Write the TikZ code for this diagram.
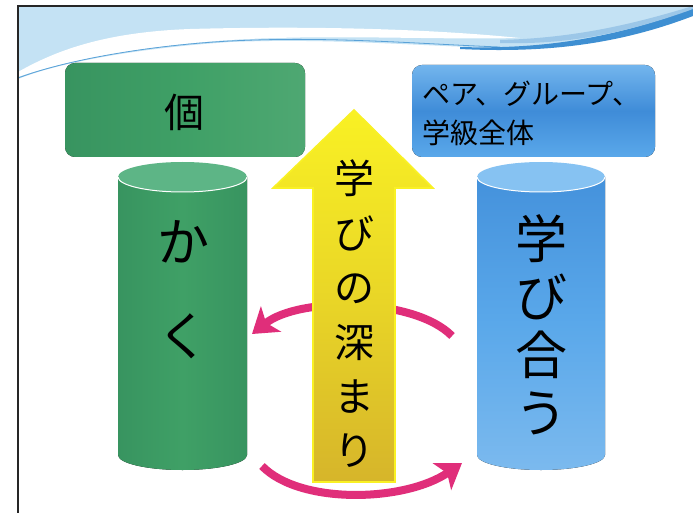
\documentclass[tikz,border=0pt]{standalone}
\usepackage{fontspec}
\newfontfamily\jp{Noto Sans CJK JP}
\usetikzlibrary{arrows.meta,shapes.geometric}
\definecolor{hdrblue}{HTML}{C4E2F4}
\definecolor{hdrline}{HTML}{5AA2D8}
\definecolor{hdrdark}{HTML}{3E8FD2}
\definecolor{grn}{HTML}{3FA066}
\definecolor{grndark}{HTML}{389460}
\definecolor{grntop}{HTML}{5DB586}
\definecolor{blu}{HTML}{5AA8EA}
\definecolor{bludark}{HTML}{3F8CD8}
\definecolor{blutop}{HTML}{86C2F2}
\definecolor{ylw}{HTML}{F9F124}
\definecolor{gold}{HTML}{D6B52A}
\definecolor{pnk}{HTML}{E02E7A}
\tikzset{
  lbl/.style={font=\jp\fontsize{52}{58}\selectfont, align=center, text=black, inner sep=0pt},
  arrlbl/.style={font=\jp\fontsize{40}{54.4}\selectfont, align=center, text=black, inner sep=0pt},
  boxlbl/.style={font=\jp\fontsize{28}{39}\selectfont, align=left, text=black, inner sep=0pt},
  cyclearrow/.style={draw=pnk, line width=8pt, -{Stealth[length=24pt,width=32pt,inset=6pt]}},
}
\begin{document}
\begin{tikzpicture}[x=1pt,y=-1pt]
\useasboundingbox (0,0) rectangle (693,513);
\fill[white] (0,0) rectangle (693,513);
% header band
\fill[hdrblue] (18,6) -- (693,6) -- (693,12) .. controls (620,38) and (560,48) .. (500,48)
  .. controls (420,46) and (330,38) .. (230,42) .. controls (140,48) and (60,62) .. (18,79) -- cycle;
\fill[white] (18,72) .. controls (60,48) and (110,32) .. (190,29) .. controls (300,26) and (420,28) .. (520,38)
  .. controls (430,40) and (330,34) .. (230,40) .. controls (140,46) and (60,62) .. (18,77) -- cycle;
\draw[hdrline, line width=0.8pt] (18,78) .. controls (60,62) and (140,46) .. (230,41) .. controls (330,36) and (420,44) .. (500,47);
\fill[hdrdark] (460,47) .. controls (560,50) and (630,32) .. (693,8) -- (693,16) .. controls (630,40) and (560,54) .. (460,49) -- cycle;
\fill[hdrline!60!white] (500,40) .. controls (580,38) and (640,22) .. (693,6) -- (693,9) .. controls (630,32) and (570,45) .. (500,43) -- cycle;
% frame
\draw[black!85, line width=1.8pt] (18,513) -- (18,6) -- (693,6);
% label boxes
\fill[left color=grndark, right color=grn!92!white, middle color=grn, rounded corners=10pt] (65,63) rectangle (305,157);
\node[font=\jp\fontsize{40}{40}\selectfont, text=black, inner sep=0pt] (kobox) at (184,112) {個};
\fill[top color=blu!85!white, bottom color=blu, middle color=bludark, rounded corners=10pt] (412,65) rectangle (655,157);
\node[boxlbl, anchor=west] (grpbox) at (422,113) {ペア、グループ、\\学級全体};
% green cylinder
\fill[left color=grndark, right color=grndark, middle color=grn] (118,177) -- (118,455) arc[start angle=180, end angle=0, x radius=64.5, y radius=15] -- (247,177) -- cycle;
\fill[grntop] (182.5,177) ellipse [x radius=64.5, y radius=15];
\draw[white, line width=1pt] (118,177) arc[start angle=180, end angle=0, x radius=64.5, y radius=15];
\node[lbl, font=\jp\fontsize{52}{94}\selectfont] (kaku) at (183,290) {か\\く};
% blue cylinder
\fill[top color=bludark!80!blu, bottom color=blu!80!white, middle color=blu] (477,177) -- (477,455) arc[start angle=180, end angle=0, x radius=64, y radius=15] -- (605,177) -- cycle;
\fill[blutop] (541,177) ellipse [x radius=64, y radius=15];
\draw[white, line width=1pt] (477,177) arc[start angle=180, end angle=0, x radius=64, y radius=15];
\node[lbl] (manabiau) at (541,325) {学\\び\\合\\う};
% upper cycle arrow (behind yellow arrow)
\coordinate (u1) at (452,336);
\coordinate (u2) at (252,334);
\draw[cyclearrow] (u1) .. controls (415,298) and (300,296) .. (u2);
% yellow arrow
\fill[top color=ylw, bottom color=gold, middle color=ylw!55!gold] (354,110) -- (433,188) -- (395,188) -- (395,482) -- (313,482) -- (313,188) -- (273,188) -- cycle;
\draw[ylw, line width=1.6pt, line join=miter] (354,110) -- (433,188) -- (395,188) -- (395,482) -- (313,482) -- (313,188) -- (273,188) -- cycle;
\node[arrlbl] (fukamari) at (354,314) {学\\び\\の\\深\\ま\\り};
% lower cycle arrow
\coordinate (l1) at (262,466);
\coordinate (l2) at (462,463);
\draw[cyclearrow] (l1) .. controls (300,505) and (405,502) .. (l2);
\end{tikzpicture}
\end{document}
